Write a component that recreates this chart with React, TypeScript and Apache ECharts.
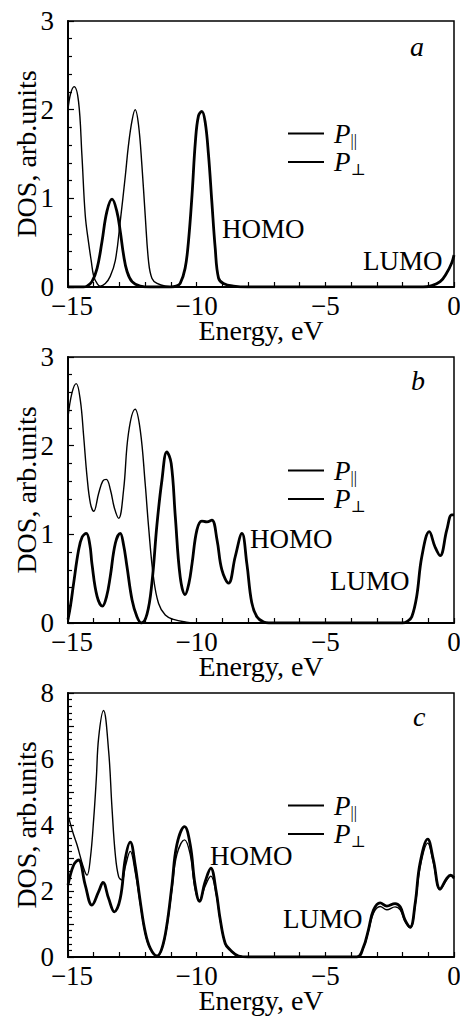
import { useEffect, useRef } from 'react';
import * as echarts from 'echarts';

const FONT = '"Liberation Serif", "Times New Roman", "DejaVu Serif", serif';

const xTicks = { min: -15, max: 0, interval: 5 };
const panelLetters = ['a', 'b', 'c'];
const yMaxes = [3, 3, 8];
const seriesNames = ['P∥', 'P⊥'];

// Panel a
const aPar: number[][] = [
  [-15, 2.0], [-14.9, 2.18], [-14.76, 2.26], [-14.59, 2.09], [-14.46, 1.49], [-14.33, 0.81],
  [-14.2, 0.5], [-14.1, 0.3], [-14.0, 0.12], [-13.87, 0.04], [-13.75, 0.01], [-13.55, 0.04],
  [-13.36, 0.12], [-13.16, 0.3], [-12.97, 0.74], [-12.77, 1.26], [-12.65, 1.6], [-12.51, 1.88],
  [-12.39, 2.0], [-12.26, 1.83], [-12.13, 1.38], [-12.0, 0.81], [-11.87, 0.29], [-11.74, 0.1],
  [-11.54, 0.04], [-11.2, 0.01], [-10.5, 0], [0, 0],
];
const aPerp: number[][] = [
  [-15, 0], [-14.4, 0], [-14.26, 0.01], [-14.07, 0.06], [-13.87, 0.21], [-13.68, 0.51],
  [-13.49, 0.85], [-13.29, 0.99], [-13.1, 0.85], [-12.97, 0.63], [-12.84, 0.36], [-12.71, 0.18],
  [-12.51, 0.06], [-12.19, 0.01], [-11.8, 0], [-11.0, 0], [-10.8, 0.01], [-10.64, 0.04],
  [-10.45, 0.21], [-10.32, 0.51], [-10.18, 1.04], [-10.05, 1.64], [-9.93, 1.93], [-9.8, 1.98],
  [-9.67, 1.86], [-9.54, 1.49], [-9.41, 0.96], [-9.28, 0.44], [-9.15, 0.1], [-8.96, 0.04],
  [-8.57, 0.01], [-8.0, 0], [-1.2, 0], [-0.93, 0.01], [-0.54, 0.06], [-0.28, 0.16],
  [-0.09, 0.27], [0, 0.36],
];

// Panel b
const bPar: number[][] = [
  [-15, 2.32], [-14.85, 2.59], [-14.68, 2.7], [-14.52, 2.51], [-14.39, 2.1], [-14.26, 1.65],
  [-14.13, 1.35], [-14.0, 1.26], [-13.81, 1.46], [-13.65, 1.6], [-13.51, 1.62], [-13.35, 1.5],
  [-13.2, 1.3], [-13.03, 1.18], [-12.84, 1.5], [-12.65, 2.14], [-12.39, 2.41], [-12.19, 2.17],
  [-12.0, 1.57], [-11.87, 1.09], [-11.68, 0.52], [-11.48, 0.22], [-11.22, 0.09], [-10.9, 0.04],
  [-10.4, 0.01], [-10, 0], [0, 0],
];
const bPerp: number[][] = [
  [-15, 0.04], [-14.9, 0.2], [-14.78, 0.45], [-14.59, 0.82], [-14.45, 0.97], [-14.29, 1.01],
  [-14.15, 0.88], [-14.07, 0.67], [-13.87, 0.3], [-13.66, 0.19], [-13.5, 0.3], [-13.36, 0.52],
  [-13.16, 0.9], [-12.97, 1.01], [-12.84, 0.88], [-12.71, 0.64], [-12.51, 0.26], [-12.32, 0.07],
  [-12.15, 0.0], [-11.93, 0.1], [-11.74, 0.45], [-11.54, 1.12], [-11.35, 1.61], [-11.16, 1.93],
  [-10.99, 1.8], [-10.83, 1.2], [-10.64, 0.52], [-10.45, 0.32], [-10.3, 0.45], [-10.18, 0.67],
  [-9.99, 1.05], [-9.8, 1.15], [-9.6, 1.14], [-9.41, 1.16], [-9.21, 0.94], [-9.02, 0.6],
  [-8.76, 0.45], [-8.5, 0.75], [-8.24, 1.01], [-8.05, 0.67], [-7.86, 0.23], [-7.66, 0.07],
  [-7.4, 0.01], [-7.2, 0], [-2.0, 0], [-1.8, 0.02], [-1.64, 0.07], [-1.45, 0.3], [-1.25, 0.75],
  [-0.96, 1.03], [-0.74, 0.86], [-0.54, 0.76], [-0.28, 1.05], [-0.09, 1.22], [0, 1.22],
];

// Panel c
const cPar: number[][] = [
  [-15, 4.3], [-14.8, 3.75], [-14.65, 3.4], [-14.39, 2.69], [-14.26, 2.48], [-14.13, 3.0],
  [-14.0, 4.2], [-13.9, 5.4], [-13.81, 6.64], [-13.62, 7.47], [-13.42, 6.23], [-13.29, 4.51],
  [-13.16, 3.09], [-13.03, 2.43], [-12.9, 2.33], [-12.77, 2.75], [-12.58, 3.2], [-12.39, 2.58],
  [-12.19, 1.6], [-12.0, 0.72], [-11.8, 0.24], [-11.54, 0.03], [-11.35, 0.24], [-11.16, 0.9],
  [-10.96, 2.05], [-10.77, 3.1], [-10.47, 3.55], [-10.25, 3.1], [-10.06, 2.05], [-9.89, 1.72],
  [-9.67, 2.15], [-9.45, 2.45], [-9.24, 1.9], [-9.09, 1.12], [-8.89, 0.4], [-8.7, 0.21],
  [-8.37, 0.03], [-8.0, 0], [-3.8, 0], [-3.52, 0.28], [-3.33, 0.76], [-3.13, 1.33], [-2.87, 1.53],
  [-2.61, 1.43], [-2.29, 1.52], [-2.09, 1.43], [-1.9, 1.07], [-1.7, 0.88], [-1.51, 1.55],
  [-1.32, 2.7], [-1.02, 3.45], [-0.8, 2.85], [-0.54, 2.04], [-0.28, 2.35], [-0.13, 2.45], [0, 2.37],
];
const cPerp: number[][] = [
  [-15, 2.18], [-14.78, 2.79], [-14.59, 2.94], [-14.33, 2.18], [-14.07, 1.57], [-13.81, 1.98],
  [-13.64, 2.26], [-13.42, 1.77], [-13.2, 1.37], [-12.97, 1.77], [-12.77, 2.99], [-12.58, 3.48],
  [-12.39, 2.79], [-12.19, 1.67], [-12.0, 0.76], [-11.8, 0.26], [-11.54, 0.03], [-11.35, 0.26],
  [-11.16, 0.96], [-10.96, 2.18], [-10.77, 3.4], [-10.47, 3.95], [-10.25, 3.4], [-10.06, 2.18],
  [-9.89, 1.69], [-9.67, 2.28], [-9.45, 2.69], [-9.24, 1.98], [-9.09, 1.17], [-8.89, 0.41],
  [-8.7, 0.22], [-8.37, 0.03], [-8.0, 0], [-3.78, 0], [-3.52, 0.3], [-3.33, 0.81], [-3.13, 1.42],
  [-2.87, 1.64], [-2.61, 1.54], [-2.29, 1.62], [-2.09, 1.52], [-1.9, 1.12], [-1.7, 0.91],
  [-1.51, 1.62], [-1.32, 2.84], [-1.02, 3.57], [-0.8, 2.94], [-0.54, 2.06], [-0.28, 2.38],
  [-0.13, 2.48], [0, 2.4],
];

const panelData = [
  [aPar, aPerp],
  [bPar, bPerp],
  [cPar, cPerp],
];

// layout
const grids = [
  { left: 68, top: 21, width: 386, height: 266 },
  { left: 68, top: 357, width: 386, height: 266 },
  { left: 68, top: 693, width: 386, height: 264 },
];
const legendTops = [120, 457, 792];
const homoPos = [[222, 229], [250, 539], [210, 856]];
const lumoPos = [[363, 261], [330, 581], [283, 919]];
const letterPos = [[410, 46], [411, 380], [413, 716]];

const fmtNum = (v: number) => (v < 0 ? '\u2212' + Math.abs(v) : String(v));

export default function App() {
  const ref = useRef<HTMLDivElement>(null);
  useEffect(() => {
    if (!ref.current) return;
    const chart = echarts.init(ref.current, undefined, { renderer: 'svg' });
    const black = '#000';
    const option: any = {
      animation: false,
      backgroundColor: '#fff',
      grid: grids.map((g) => ({
        ...g,
        show: true,
        borderColor: black,
        borderWidth: 1.5,
        backgroundColor: 'transparent',
        containLabel: false,
        outerBoundsMode: 'none',
      })),
      xAxis: grids.map((_, i) => ({
        type: 'value',
        gridIndex: i,
        min: xTicks.min,
        max: xTicks.max,
        interval: xTicks.interval,
        name: 'Energy, eV',
        nameLocation: 'middle',
        nameGap: 29,
        nameMoveOverlap: false,
        nameTextStyle: { color: black, fontFamily: FONT, fontSize: 28 },
        axisLine: { show: true, onZero: false, lineStyle: { color: black, width: 2 } },
        axisTick: { show: true, inside: true, length: 5, lineStyle: { color: black, width: 1.2 } },
        minorTick: { show: true, splitNumber: 5, length: 5, lineStyle: { color: black, width: 1.2 } },
        splitLine: { show: false },
        minorSplitLine: { show: false },
        axisLabel: {
          color: black,
          fontFamily: FONT,
          fontSize: 27,
          lineHeight: 18,
          margin: 10,
          formatter: (v: number) => (v === xTicks.min ? '{l|' + fmtNum(v) + '}' : fmtNum(v)),
          rich: { l: { fontFamily: FONT, fontSize: 27, lineHeight: 18, color: black, padding: [0, 0, 0, 8] } },
        },
      })),
      yAxis: grids.map((_, i) => ({
        type: 'value',
        gridIndex: i,
        min: 0,
        max: yMaxes[i],
        interval: 1,
        name: 'DOS, arb.units',
        nameLocation: 'middle',
        nameRotate: 90,
        nameGap: 28,
        nameMoveOverlap: false,
        nameTextStyle: { color: black, fontFamily: FONT, fontSize: 28 },
        axisLine: { show: true, onZero: false, lineStyle: { color: black, width: 2 } },
        axisTick: { show: true, inside: true, length: 6, lineStyle: { color: black, width: 1.2 } },
        minorTick: { show: true, splitNumber: 5, length: 4, lineStyle: { color: black, width: 1.2 } },
        splitLine: { show: false },
        minorSplitLine: { show: false },
        axisLabel: {
          color: black,
          fontFamily: FONT,
          fontSize: 27,
          lineHeight: 18,
          margin: 14,
          formatter: (v: number) => (yMaxes[i] > 3 && v % 2 !== 0 ? '' : fmtNum(v)),
        },
      })),
      legend: legendTops.map((t) => ({
        orient: 'vertical',
        left: 287,
        top: t,
        padding: 0,
        itemWidth: 36,
        itemHeight: 10,
        itemGap: 0,
        selectedMode: false,
        data: seriesNames,
        itemStyle: { opacity: 0 },
        formatter: (name: string) => (name === seriesNames[0] ? '{p|P}{s|||}' : '{p|P}{s|\u22a5}'),
        textStyle: {
          color: black,
          fontFamily: FONT,
          rich: {
            p: { fontFamily: FONT, fontSize: 27, fontStyle: 'italic', color: black, lineHeight: 30, padding: [0, 0, 0, 5] },
            s: { fontFamily: FONT, fontSize: 16, color: black, lineHeight: 8, verticalAlign: 'bottom' },
          },
        },
      })),
      series: panelData.flatMap((pair, i) =>
        pair.map((d, k) => ({
          type: 'line',
          name: seriesNames[k],
          xAxisIndex: i,
          yAxisIndex: i,
          data: d,
          symbol: 'none',
          smooth: 0.4,
          lineStyle: { color: black, width: k === 0 ? 1.4 : 2.8 },
          itemStyle: { color: black, opacity: 0 },
          z: k === 0 ? 3 : 2,
        }))
      ),
      graphic: grids.flatMap((_, i) => [
        {
          type: 'text',
          x: homoPos[i][0],
          y: homoPos[i][1],
          style: { text: 'HOMO', fill: black, fontFamily: FONT, fontSize: 27, verticalAlign: 'middle' },
          z: 10,
        },
        {
          type: 'text',
          x: lumoPos[i][0],
          y: lumoPos[i][1],
          style: { text: 'LUMO', fill: black, fontFamily: FONT, fontSize: 27, verticalAlign: 'middle' },
          z: 10,
        },
        {
          type: 'text',
          x: letterPos[i][0],
          y: letterPos[i][1],
          style: {
            text: panelLetters[i],
            fill: black,
            fontFamily: FONT,
            fontSize: 28,
            fontStyle: 'italic',
            verticalAlign: 'middle',
          },
          z: 10,
        },
      ]),
    };
    chart.setOption(option);
    return () => chart.dispose();
  }, []);
  return (
    <div
      ref={ref}
      style={{ position: 'absolute', left: 0, top: 0, width: 460, height: 1017, background: '#fff' }}
    />
  );
}
